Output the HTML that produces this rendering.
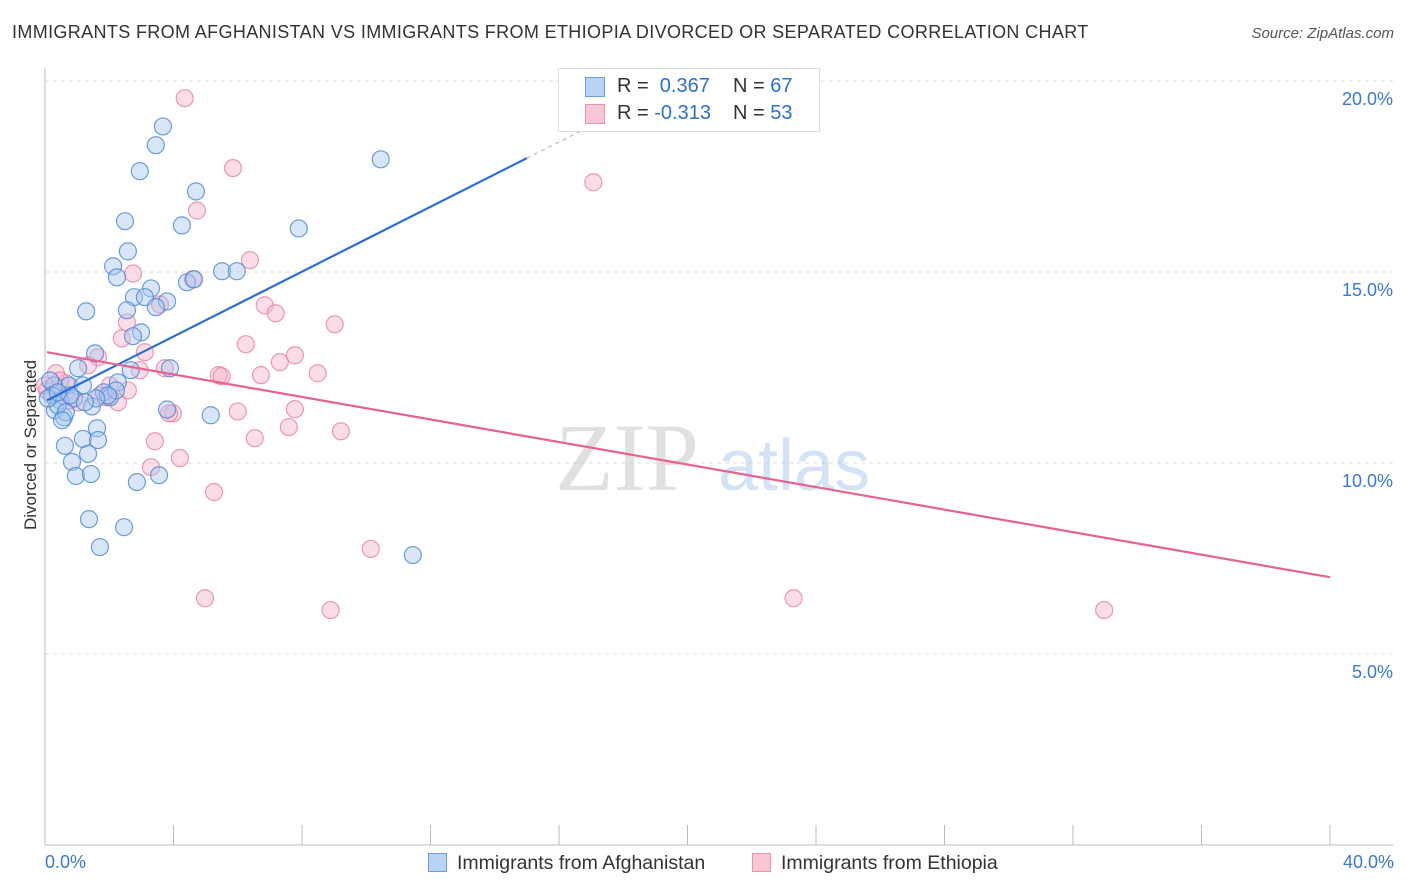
<!DOCTYPE html>
<html><head><meta charset="utf-8"><style>
body{margin:0;background:#fff;font-family:"Liberation Sans",sans-serif;}
#wrap{position:relative;width:1406px;height:892px;overflow:hidden;}
.t{position:absolute;white-space:nowrap;}
</style></head><body>
<div id="wrap">
<div class="t" style="left:12px;top:22px;font-size:18px;letter-spacing:0.36px;color:#333;">IMMIGRANTS FROM AFGHANISTAN VS IMMIGRANTS FROM ETHIOPIA DIVORCED OR SEPARATED CORRELATION CHART</div>
<div class="t" style="right:12px;top:25px;font-size:15px;color:#555;font-style:italic;">Source: ZipAtlas.com</div>
<div class="t" style="left:-44px;top:445px;font-size:17px;color:#333;transform:rotate(-90deg);width:150px;text-align:center;">Divorced or Separated</div>
<svg id="svg" width="1406" height="892" style="position:absolute;left:0;top:0"></svg>
</div>
<script>
const blueX=[3.67,3.45,2.95,10.45,4.70,2.49,4.26,7.90,2.58,2.12,2.24,5.51,5.97,4.42,4.64,3.30,2.77,3.11,3.80,2.55,3.45,1.28,2.99,2.74,3.89,1.56,1.03,2.67,2.27,0.75,0.28,1.18,1.83,2.02,0.90,0.47,1.46,0.31,0.59,3.80,5.16,1.62,1.18,1.65,1.34,0.62,0.84,0.96,1.43,2.86,3.55,1.37,2.46,1.71,11.45,0.16,0.22,0.40,0.65,0.09,0.53,2.21,1.96,1.59,1.24,0.78,0.40];
const blueY=[18.81,18.32,17.64,17.95,17.11,16.33,16.22,16.14,15.54,15.15,14.86,15.02,15.02,14.73,14.81,14.57,14.34,14.34,14.23,14.00,14.08,13.97,13.42,13.32,12.48,12.87,12.48,12.43,12.11,12.03,12.03,12.03,11.85,11.72,11.69,11.64,11.48,11.38,11.20,11.40,11.25,10.91,10.63,10.60,10.24,10.45,10.03,9.66,9.71,9.50,9.68,8.53,8.32,7.80,7.59,12.16,11.77,11.51,11.33,11.69,11.12,11.90,11.77,11.69,11.59,11.77,11.85];
const pinkX=[4.35,5.85,17.07,4.73,2.74,6.38,4.60,3.58,6.84,7.18,2.55,9.02,2.39,6.25,3.11,7.78,1.65,7.31,5.41,5.50,6.72,8.49,3.73,2.95,2.02,0.65,0.34,0.06,0.78,2.27,1.03,1.90,6.00,7.78,3.98,3.42,6.53,7.59,9.21,4.20,3.30,5.26,10.14,4.98,8.89,23.30,32.97,0.47,1.71,2.58,1.34,0.00,3.86];
const pinkY=[19.55,17.72,17.35,16.61,14.96,15.31,14.81,14.15,14.13,13.92,13.68,13.63,13.26,13.11,12.90,12.82,12.77,12.64,12.30,12.27,12.30,12.35,12.48,12.43,12.03,12.09,12.35,11.90,11.64,11.59,11.59,11.72,11.35,11.41,11.30,10.57,10.65,10.94,10.83,10.13,9.89,9.24,7.75,6.46,6.15,6.46,6.15,12.16,11.77,11.90,12.56,12.03,11.30];
const blueTrend=[[0.06,11.64],[15.0,17.98],[17.5,19.04]];
const pinkTrend=[[0.06,12.90],[40,7.01]];
const yTicks=[5,10,15,20];
const yTickLabels=["5.0%","10.0%","15.0%","20.0%"];
const xTickCount=10;

const X=v=>45+v*(1285/40);
const Y=v=>845-v*38.2;
const svg=document.getElementById('svg');
const NS='http://www.w3.org/2000/svg';
function mk(tag,attrs){const e=document.createElementNS(NS,tag);for(const k in attrs)e.setAttribute(k,attrs[k]);svg.appendChild(e);return e;}
yTicks.forEach((t,i)=>{
  const g=mk('line',{x1:45,x2:1393,y1:Y(t),y2:Y(t),stroke:'#ddd','stroke-dasharray':'4,4'});
  
  
  const l=mk('text',{x:1393,y:Y(t)+24,'text-anchor':'end','font-size':18,fill:'#3a78d4','font-family':'Liberation Sans, sans-serif'});
  l.textContent=yTickLabels[i];
  
  
});
const ax=mk('line',{x1:45,x2:1393,y1:845,y2:845,stroke:'#bbb'});


const ay=mk('line',{x1:45,x2:45,y1:68,y2:845,stroke:'#bbb'});


for(let i=0;i<=xTickCount;i++){
  const tk=mk('line',{x1:X(i*4),x2:X(i*4),y1:825,y2:845,stroke:'#bbb'});
  
  
}
const wm=mk('text',{x:555,y:490,'font-size':96,fill:'#ccc','font-family':'Liberation Serif, serif','opacity':0.6});
wm.textContent='ZIP';


const wm2=mk('text',{x:718,y:490,'font-size':72,fill:'#a9c6ec','font-family':'Liberation Sans, sans-serif','opacity':0.5});
wm2.textContent='atlas';


function pts(xs,ys,fill,stroke,name){
  xs.forEach((v,i)=>{
    const c=mk('circle',{cx:X(v),cy:Y(ys[i]),r:8.5,fill:fill,'fill-opacity':0.45,stroke:stroke,'stroke-width':1.2,'stroke-opacity':0.8});
    
    
  });
}
pts(pinkX,pinkY,'#f5b3c7','#e8819f','point-ethiopia');
pts(blueX,blueY,'#a8c8f0','#4a86d8','point-afghanistan');
const b1=mk('line',{x1:X(blueTrend[0][0]),y1:Y(blueTrend[0][1]),x2:X(blueTrend[1][0]),y2:Y(blueTrend[1][1]),stroke:'#2a70d4','stroke-width':2.2});


const b2=mk('line',{x1:X(blueTrend[1][0]),y1:Y(blueTrend[1][1]),x2:X(blueTrend[2][0]),y2:Y(blueTrend[2][1]),stroke:'#bbb','stroke-width':1.2,'stroke-dasharray':'4,4'});


const p1=mk('line',{x1:X(pinkTrend[0][0]),y1:Y(pinkTrend[0][1]),x2:X(pinkTrend[1][0]),y2:Y(pinkTrend[1][1]),stroke:'#e8628f','stroke-width':2.2});


</script>
<div class="t" style="left:45px;top:852px;font-size:18px;color:#3a78d4;">0.0%</div>
<div class="t" style="right:12px;top:852px;font-size:18px;color:#3a78d4;">40.0%</div>
<div style="position:absolute;left:558px;top:68px;width:260px;height:62px;border:1px solid #ddd;background:#fff;font-size:20px;color:#333;">
 <div style="position:absolute;left:26px;top:8px;width:20px;height:20px;background:#b9d3f3;border:1px solid #6a9ee0;box-sizing:border-box;"></div>
 <div class="t" style="left:58px;top:6px;">R = <span style="color:#2a70d4">&nbsp;0.367</span></div>
 <div class="t" style="left:174px;top:6px;">N = <span style="color:#2a70d4">67</span></div>
 <div style="position:absolute;left:26px;top:35px;width:20px;height:20px;background:#f8c6d4;border:1px solid #e892ab;box-sizing:border-box;"></div>
 <div class="t" style="left:58px;top:33px;">R = <span style="color:#2a70d4">-0.313</span></div>
 <div class="t" style="left:174px;top:33px;">N = <span style="color:#2a70d4">53</span></div>
</div>
<div style="position:absolute;left:428px;top:852px;font-size:19.5px;color:#333;white-space:nowrap;">
 <span style="display:inline-block;width:19px;height:19px;background:#b9d3f3;border:1px solid #6a9ee0;box-sizing:border-box;vertical-align:-3px;margin-right:10px;"></span>Immigrants from Afghanistan</div>
<div style="position:absolute;left:752px;top:852px;font-size:19.5px;color:#333;white-space:nowrap;">
 <span style="display:inline-block;width:19px;height:19px;background:#f8c6d4;border:1px solid #e892ab;box-sizing:border-box;vertical-align:-3px;margin-right:10px;"></span>Immigrants from Ethiopia</div>
</body></html>
